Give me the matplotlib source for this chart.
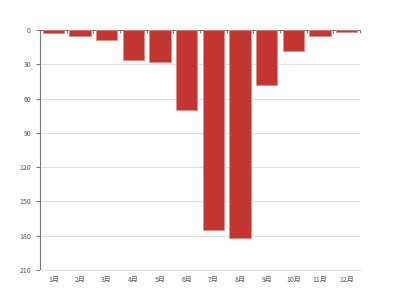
import matplotlib

matplotlib.use("Agg")
import matplotlib.pyplot as plt
import numpy as np

plt.rcParams["font.family"] = ["Noto Sans CJK SC", "DejaVu Sans"]

months = ["1月", "2月", "3月", "4月", "5月", "6月", "7月", "8月", "9月", "10月", "11月", "12月"]
values = [2.3, 5.5, 8.7, 26, 28.3, 70.3, 175, 182, 48.4, 18.7, 5.5, 2]
y_ticks = [0, 30, 60, 90, 120, 150, 180, 210]

fig = plt.figure(figsize=(4, 3), dpi=100)
ax = fig.add_axes([0.1, 0.1, 0.8, 0.8])

x = np.arange(len(months))
ax.bar(x, values, width=0.8, color="#c23531", edgecolor="#e08a88", linewidth=0.5, zorder=3)

ax.set_xlim(-0.5, len(months) - 0.5)
ax.set_ylim(210, 0)
ax.set_yticks(y_ticks)
ax.set_yticklabels([str(v) for v in y_ticks])
ax.set_xticks(x)
ax.set_xticklabels(months)
ax.set_xticks(np.arange(len(months) + 1) - 0.5, minor=True)

ax.grid(axis="y", color="#e0e0e0", linewidth=0.8, zorder=0)
ax.spines["right"].set_visible(False)
ax.spines["bottom"].set_color("#e0e0e0")
ax.spines["bottom"].set_linewidth(0.8)
for side in ("left", "top"):
    ax.spines[side].set_color("#777777")
    ax.spines[side].set_linewidth(0.8)

ax.tick_params(axis="x", which="major", length=0, labelsize=5, colors="#555555", pad=4)
ax.tick_params(axis="x", which="minor", top=True, bottom=False, direction="in", length=2.5,
               color="#777777", width=0.8)
ax.tick_params(axis="y", length=3, labelsize=5, colors="#555555", color="#777777", width=0.8)

fig.savefig("out.png", dpi=100)
